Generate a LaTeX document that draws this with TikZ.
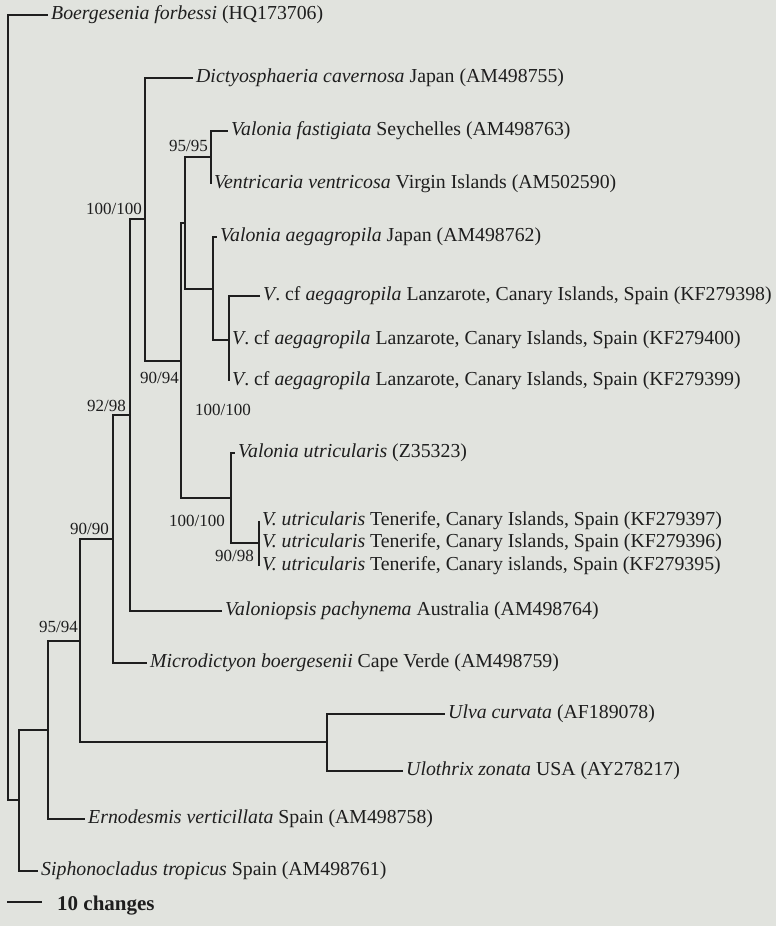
\documentclass[tikz,border=0pt]{standalone}
\usepackage{fontspec}
\setmainfont{Liberation Serif}
\definecolor{paper}{RGB}{225,227,222}
\definecolor{ink}{RGB}{30,30,30}

\begin{document}
\begin{tikzpicture}[x=1pt,y=-1pt,every node/.style={ink},
	branch/.style={ink,line width=1.6pt},
	taxon/.style={anchor=west,inner sep=3pt,font=\fontsize{19.8}{22}\selectfont},
	supp/.style={inner sep=1pt,font=\fontsize{17}{19}\selectfont}]
	\fill[paper] (0,0) rectangle (776,926);
	\useasboundingbox (0,0) rectangle (776,926);
	% internal nodes
	\coordinate (root) at (8,408);
	\coordinate (n19) at (19,800);
	\coordinate (n48) at (48,730);
	\coordinate (n80) at (80,641);
	\coordinate (nUlva) at (327,742);
	\coordinate (n113) at (113,539);
	\coordinate (n130) at (130,415);
	\coordinate (n145) at (145,219);
	\coordinate (n181) at (181,361);
	\coordinate (n185) at (185,223);
	\coordinate (n211) at (211,157);
	\coordinate (n213) at (213,289);
	\coordinate (n229) at (229,340);
	\coordinate (nU) at (231,498);
	\coordinate (n259) at (259,543);
	% tips
	\coordinate (tBoer) at (48,15);
	\coordinate (tDicty) at (193,78);
	\coordinate (tFast) at (228,131);
	\coordinate (tVentr) at (211,184);
	\coordinate (tAeg) at (217,237);
	\coordinate (t398) at (260,296);
	\coordinate (t400) at (229,340);
	\coordinate (t399) at (229,381);
	\coordinate (tUtr) at (235,453);
	\coordinate (t397) at (259,521);
	\coordinate (t396) at (259,543);
	\coordinate (t395) at (259,566);
	\coordinate (tValps) at (222,611);
	\coordinate (tMicro) at (147,663);
	\coordinate (tUlva) at (445,714);
	\coordinate (tUloth) at (403,771);
	\coordinate (tErno) at (85,819);
	\coordinate (tSipho) at (38,871);
	% branches
	\draw[branch] (root) |- (tBoer) (root) |- (n19);
	\draw[branch] (n19) |- (n48) (n19) |- (tSipho);
	\draw[branch] (n48) |- (n80) (n48) |- (tErno);
	\draw[branch] (n80) |- (n113) (n80) |- (nUlva);
	\draw[branch] (nUlva) |- (tUlva) (nUlva) |- (tUloth);
	\draw[branch] (n113) |- (n130) (n113) |- (tMicro);
	\draw[branch] (n130) |- (n145) (n130) |- (tValps);
	\draw[branch] (n145) |- (tDicty) (n145) |- (n181);
	\draw[branch] (n181) |- (n185) (n181) |- (nU);
	\draw[branch] (n185) |- (n211) (n185) |- (n213);
	\draw[branch] (n211) |- (tFast) (n211) |- (tVentr);
	\draw[branch] (n213) |- (tAeg) (n213) |- (n229);
	\draw[branch] (n229) |- (t398) (n229) |- (t400) (n229) |- (t399);
	\draw[branch] (nU) |- (tUtr) (nU) |- (n259);
	\draw[branch] (n259) |- (t397) (n259) |- (t396) (n259) |- (t395);
	% taxa
	\node[taxon] (boer) at (tBoer) {\textit{Boergesenia forbessi} (HQ173706)};
	\node[taxon] (dicty) at (tDicty) {\textit{Dictyosphaeria cavernosa} Japan (AM498755)};
	\node[taxon] (fast) at (tFast) {\textit{Valonia fastigiata} Seychelles (AM498763)};
	\node[taxon] (ventr) at (tVentr) {\textit{Ventricaria ventricosa} Virgin Islands (AM502590)};
	\node[taxon] (aeg) at (tAeg) {\textit{Valonia aegagropila} Japan (AM498762)};
	\node[taxon] (kf398) at (t398) {\textit{V}. cf \textit{aegagropila} Lanzarote, Canary Islands, Spain (KF279398)};
	\node[taxon] (kf400) at (t400) {\textit{V}. cf \textit{aegagropila} Lanzarote, Canary Islands, Spain (KF279400)};
	\node[taxon] (kf399) at (t399) {\textit{V}. cf \textit{aegagropila} Lanzarote, Canary Islands, Spain (KF279399)};
	\node[taxon] (utr) at (tUtr) {\textit{Valonia utricularis} (Z35323)};
	\node[taxon] (kf397) at (t397) {\textit{V. utricularis} Tenerife, Canary Islands, Spain (KF279397)};
	\node[taxon] (kf396) at (t396) {\textit{V. utricularis} Tenerife, Canary Islands, Spain (KF279396)};
	\node[taxon] (kf395) at (t395) {\textit{V. utricularis} Tenerife, Canary islands, Spain (KF279395)};
	\node[taxon] (valps) at (tValps) {\textit{Valoniopsis pachynema} Australia (AM498764)};
	\node[taxon] (micro) at (tMicro) {\textit{Microdictyon boergesenii} Cape Verde (AM498759)};
	\node[taxon] (ulva) at (tUlva) {\textit{Ulva curvata} (AF189078)};
	\node[taxon] (uloth) at (tUloth) {\textit{Ulothrix zonata} USA (AY278217)};
	\node[taxon] (erno) at (tErno) {\textit{Ernodesmis verticillata} Spain (AM498758)};
	\node[taxon] (sipho) at (tSipho) {\textit{Siphonocladus tropicus} Spain (AM498761)};
	% support values
	\node[supp,anchor=east] (s211) at (209,146) {95/95};
	\node[supp,anchor=east] (s145) at (143,209) {100/100};
	\node[supp,anchor=east] (s181) at (180,378) {90/94};
	\node[supp,anchor=east] (s130) at (127,406) {92/98};
	\node[supp,anchor=east] (s113) at (110,529) {90/90};
	\node[supp,anchor=east] (s80) at (79,627) {95/94};
	\node[supp] (s229) at (223,410) {100/100};
	\node[supp,anchor=east] (sU) at (226,521) {100/100};
	\node[supp,anchor=east] (s259) at (255,556) {90/98};
	% scale bar
	\coordinate (barL) at (7,902);
	\coordinate (barR) at (42,902);
	\draw[branch] (barL) -- (barR);
	\node[anchor=west,inner sep=0pt,font=\fontsize{21}{23}\selectfont\bfseries] (bar) at (57,906) {10 changes};
\end{tikzpicture}
\end{document}
